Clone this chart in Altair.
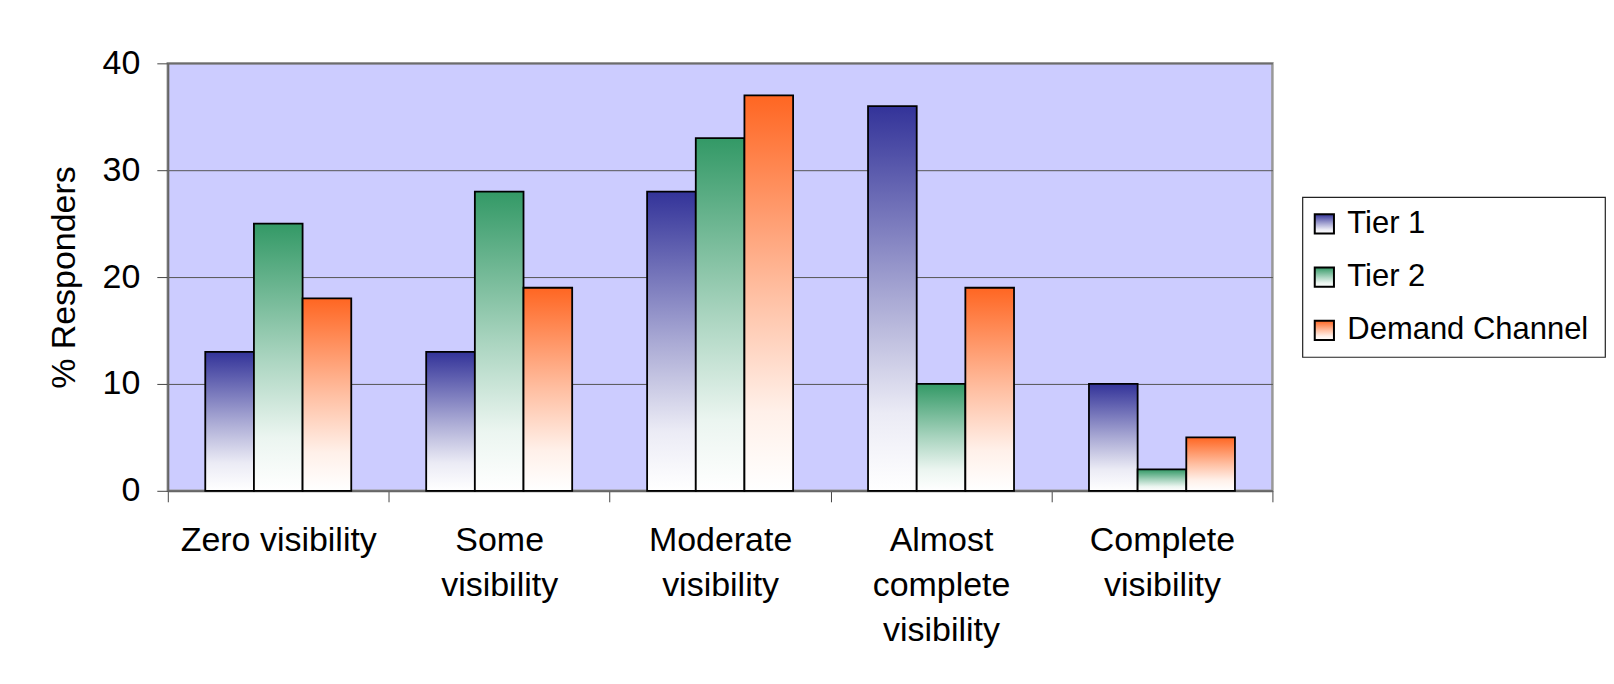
import json
import altair as alt
import pandas as pd

# ---- data ----
categories = ["Zero visibility", "Some visibility", "Moderate visibility",
              "Almost complete visibility", "Complete visibility"]
tick_labels = [["Zero visibility"], ["Some", "visibility"], ["Moderate", "visibility"],
               ["Almost", "complete", "visibility"], ["Complete", "visibility"]]
series = ["Tier 1", "Tier 2", "Demand Channel"]
tier1 = [13, 13, 28, 36, 10]
tier2 = [25, 28, 33, 10, 2]
demand = [18, 19, 37, 19, 5]
series_colors = ["#333399", "#339966", "#FF6622"]
y_ticks = [0, 10, 20, 30, 40]

FONT = "Liberation Sans"

rows = []
for s, vals in zip(series, [tier1, tier2, demand]):
    for c, v in zip(categories, vals):
        rows.append({"category": c, "series": s, "value": v})
df = pd.DataFrame(rows)


def tint(c, k):
    """mix colour c with white, keeping fraction k of the colour"""
    r, g, b = (int(c[i:i + 2], 16) for i in (1, 3, 5))
    return "#%02x%02x%02x" % tuple(round(k * v + (1 - k) * 255) for v in (r, g, b))


def grad(c):
    return alt.Gradient(
        gradient="linear",
        stops=[alt.GradientStop(color=c, offset=0),
               alt.GradientStop(color=tint(c, 0.42), offset=0.5),
               alt.GradientStop(color=tint(c, 0.1), offset=0.8),
               alt.GradientStop(color="#FFFFFF", offset=1)],
        x1=0, x2=0, y1=0, y2=1,
    )


label_expr = " : ".join(
    f"datum.value == '{c}' ? {json.dumps(l)}" for c, l in zip(categories, tick_labels)
) + " : datum.value"

x_enc = alt.X(
    "category:N",
    sort=categories,
    scale=alt.Scale(domain=categories, paddingInner=0, paddingOuter=0),
    axis=alt.Axis(
        title=None, labelAngle=0, labelExpr=label_expr, labelFontSize=34,
        labelFont=FONT, labelColor="black", labelLineHeight=45, labelPadding=22,
        labelBaseline="top", labelLimit=500, tickSize=11, tickBand="extent",
        tickColor="#444444", domainColor="#666666", domainWidth=2,
    ),
)
y_enc = alt.Y(
    "value:Q",
    scale=alt.Scale(domain=[0, 40], nice=False),
    axis=alt.Axis(
        title="% Responders", titleFontSize=34, titleFont=FONT, titleFontWeight="normal",
        titleColor="black", titlePadding=21, values=y_ticks, labelFontSize=34,
        labelFont=FONT, labelColor="black", labelPadding=17, tickSize=11,
        tickColor="#444444", domainColor="#666666", domainWidth=2,
        grid=True, gridColor="#555555", gridWidth=1,
    ),
)
xoff = alt.XOffset("series:N", scale=alt.Scale(domain=series, paddingInner=0, paddingOuter=0.77))

bar_layers = []
for s, c in zip(series, series_colors):
    bar_layers.append(
        alt.Chart(df)
        .transform_filter(alt.datum.series == s)
        .mark_bar(fill=grad(c), stroke="black", strokeWidth=1.8)
        .encode(x=x_enc, xOffset=xoff, y=y_enc)
    )

main = alt.layer(*bar_layers).properties(
    width=1106, height=428,
    view=alt.ViewBackground(fill="#CCCCFF", stroke="#999999", strokeWidth=2.5),
)

# ---- legend panel ----
leg_df = pd.DataFrame({"series": series})
ly = alt.Y("series:N", scale=alt.Scale(type="point", domain=series, padding=0.5), axis=None)
leg_layers = []
for s, c in zip(series, series_colors):
    leg_layers.append(
        alt.Chart(leg_df)
        .transform_filter(alt.datum.series == s)
        .mark_square(size=370, fill=grad(c), stroke="black", strokeWidth=2, opacity=1)
        .encode(x=alt.value(22), y=ly)
    )
leg_text = (
    alt.Chart(leg_df)
    .mark_text(align="left", baseline="middle", fontSize=31, font=FONT, color="black")
    .encode(x=alt.value(45), y=ly, text="series:N")
)
legend = alt.layer(*leg_layers, leg_text).properties(
    width=303, height=160,
    view=alt.ViewBackground(fill="white", stroke="#222222", strokeWidth=1.2),
)

chart = alt.hconcat(main, legend, spacing=30, bounds="flush", center=True).properties(
    padding={"left": 37, "top": 36, "right": 0, "bottom": 5},
    background="white",
).configure(font=FONT)

chart.save("out.html", embed_options={"renderer": "svg", "actions": False})
